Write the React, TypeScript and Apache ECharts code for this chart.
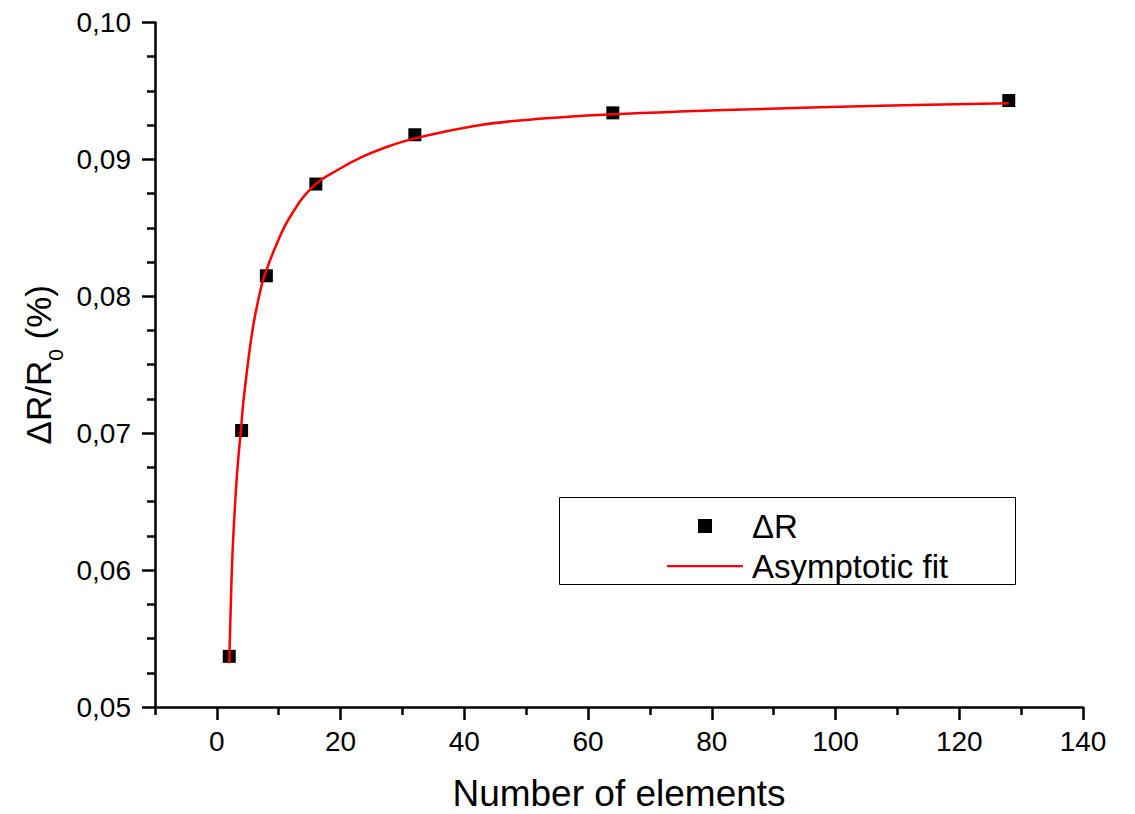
import React, { useEffect, useRef } from "react";
import * as echarts from "echarts";

const measuredX: number[] = [2, 4, 8, 16, 32, 64, 128];
const measuredY: number[] = [0.0537, 0.0702, 0.0815, 0.0882, 0.0918, 0.0934, 0.0943];

const fitX: number[] = [2, 2.2, 2.48, 2.85, 3.34, 3.88, 4.31, 5.75, 7.12, 7.93, 9.55, 11.7, 15.47, 19.8, 23.56, 26.8, 31.65, 42.4, 53.2, 64, 74.8, 89.4, 105.6, 128];
const fitY: number[] = [0.0532, 0.0566, 0.0607, 0.0641, 0.0675, 0.0702, 0.0724, 0.0775, 0.0806, 0.0818, 0.0837, 0.0857, 0.0880, 0.0893, 0.0902, 0.0908, 0.0915, 0.0925, 0.0930, 0.0933, 0.0935, 0.0937, 0.0939, 0.0941];

const xMajorTicks: number[] = [0, 20, 40, 60, 80, 100, 120, 140];
const xMinorTicks: number[] = [-10, 10, 30, 50, 70, 90, 110, 130];

const seriesNames: string[] = ["\u0394R", "Asymptotic fit"];
const xTitle = "Number of elements";

const FONT = "'Liberation Sans', Arial, Helvetica, sans-serif";

export default function App() {
  const ref = useRef<HTMLDivElement>(null);
  useEffect(() => {
    if (!ref.current) return;
    const chart = echarts.init(ref.current, undefined, { renderer: "svg" });
    const axisLineStyle = { color: "#000", width: 2.5 };
    chart.setOption({
      animation: false,
      backgroundColor: "#fff",
      textStyle: { fontFamily: FONT, color: "#000" },
      grid: {
        left: 155,
        top: 22.5,
        width: 928,
        height: 684.5,
        containLabel: false,
        outerBoundsMode: "none",
      },
      xAxis: [
        {
          type: "value",
          min: -10,
          max: 140,
          position: "bottom",
          name: xTitle,
          nameLocation: "middle",
          nameGap: 68,
          nameTextStyle: { fontSize: 37, color: "#000", fontFamily: FONT },
          axisLine: { show: true, onZero: false, lineStyle: axisLineStyle },
          axisTick: { show: true, customValues: xMajorTicks, length: 13, lineStyle: axisLineStyle },
          axisLabel: {
            customValues: xMajorTicks,
            fontSize: 28,
            color: "#000",
            margin: 20,
            fontFamily: FONT,
          },
          splitLine: { show: false },
        },
        {
          type: "value",
          min: -10,
          max: 140,
          position: "bottom",
          axisLine: { show: false, onZero: false },
          axisTick: { show: true, customValues: xMinorTicks, length: 8, lineStyle: axisLineStyle },
          axisLabel: { show: false },
          splitLine: { show: false },
        },
      ],
      yAxis: {
        type: "value",
        min: 0.05,
        max: 0.1,
        interval: 0.01,
        name: "{a|\u0394R/R}{s|0}{a| (%)}",
        nameLocation: "middle",
        nameGap: 95,
        nameRotate: 90,
        nameTextStyle: {
          fontFamily: FONT,
          color: "#000",
          rich: {
            a: { fontSize: 35, lineHeight: 36, verticalAlign: "top", fontFamily: FONT, color: "#000" },
            s: { fontSize: 21, lineHeight: 21, padding: [24, 0, 0, 0], verticalAlign: "top", fontFamily: FONT, color: "#000" },
          },
        },
        axisLine: { show: true, onZero: false, lineStyle: axisLineStyle },
        axisTick: { show: true, length: 13, lineStyle: axisLineStyle },
        minorTick: { show: true, splitNumber: 4, length: 8, lineStyle: axisLineStyle },
        axisLabel: {
          fontSize: 28,
          color: "#000",
          margin: 24,
          fontFamily: FONT,
          formatter: (v: number) => v.toFixed(2).replace(".", ","),
        },
        splitLine: { show: false },
        minorSplitLine: { show: false },
      },
      legend: {
        orient: "vertical",
        left: 667,
        top: 508,
        itemWidth: 76,
        itemHeight: 14,
        itemGap: 4,
        padding: 0,
        textStyle: { fontSize: 33, lineHeight: 36, color: "#000", fontFamily: FONT, padding: [0, 0, 0, 4] },
        data: [
          { name: seriesNames[0], icon: "path://M0,7L0,7M31,0L45,0L45,14L31,14ZM76,7L76,7" },
          { name: seriesNames[1], icon: "path://M0,0L0,0M0,6L76,6L76,8.2L0,8.2ZM76,14L76,14" },
        ],
      },
      graphic: [
        {
          type: "rect",
          z: 1,
          shape: { x: 559.5, y: 497.5, width: 456, height: 87 },
          style: { fill: "#fff", stroke: "#000", lineWidth: 1 },
        },
      ],
      series: [
        {
          name: seriesNames[0],
          type: "scatter",
          symbol: "rect",
          symbolSize: 13,
          itemStyle: { color: "#000", opacity: 1 },
          data: measuredX.map((x, i) => [x, measuredY[i]]),
          z: 2,
        },
        {
          name: seriesNames[1],
          type: "line",
          smooth: 0.4,
          symbol: "none",
          showSymbol: false,
          lineStyle: { color: "#ff0000", width: 2.5 },
          itemStyle: { color: "#ff0000" },
          data: fitX.map((x, i) => [x, fitY[i]]),
          z: 3,
        },
      ],
    });
    return () => chart.dispose();
  }, []);
  return (
    <div
      ref={ref}
      style={{ position: "fixed", left: 0, top: 0, width: 1135, height: 814 }}
    />
  );
}
